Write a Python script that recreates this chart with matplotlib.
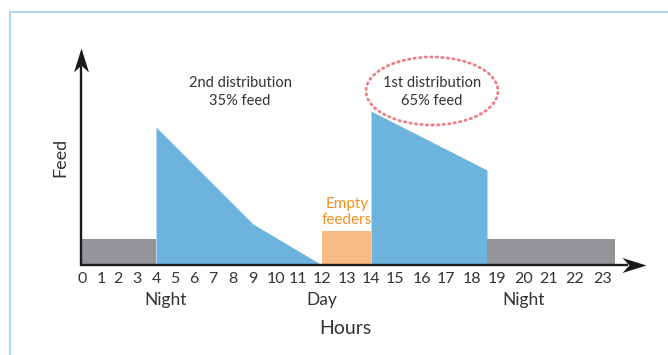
import numpy as np
import matplotlib
matplotlib.use("Agg")
import matplotlib.pyplot as plt
from matplotlib.patches import Ellipse, Rectangle
from matplotlib.path import Path
from matplotlib.scale import FuncScale

plt.rcParams['font.family'] = ['Lato', 'DejaVu Sans']

# ---- data ----
hours = list(range(24))
hour_labels = [str(h) for h in hours]
period_labels = ["Night", "Day", "Night"]
period_hours = [4.5, 12, 20]

night1_x = [0, 4]
night1_feed = [26, 26]
dist2_x = [4, 9, 12]          # 2nd distribution (35% feed)
dist2_feed = [138, 41, 0]
empty_x = [12, 14]
empty_feed = [34, 34]
dist1_x = [14, 18.6]          # 1st distribution (65% feed)
dist1_feed = [154, 95]
night2_x = [18.6, 23.46]
night2_feed = [26, 26]

# ---- layout: non-uniform hour positions (labels are set side by side) ----
pos_hours = [-5] + hours + [30]
pos_px = [82 - 5 * 19, 82, 101, 118, 137, 156, 175, 194, 213, 233, 253, 276, 298,
          322, 347, 371, 395, 422, 446, 472, 497, 524, 549, 575, 603, 603 + 7 * 26]

def fwd(x):
    return np.interp(x, pos_hours, pos_px)

def inv(p):
    return np.interp(p, pos_px, pos_hours)

W, H = 668, 355
fig = plt.figure(figsize=(W / 100, H / 100), dpi=100)
ax = fig.add_axes([0, 0, 1, 1])
ax.set_xscale(FuncScale(ax, (fwd, inv)))
ax.set_xlim(inv(0), inv(W))
ax.set_ylim(265 - H, 265)
ax.axis('off')

# frame
fig.patches.append(Rectangle((9.5 / W, -0.1), 1.2, (H - 12.5) / H + 0.1,
                             transform=fig.transFigure, fill=False,
                             ec='#afd6ef', lw=1.5))

gray = '#939598'
blue = '#6cb4de'
orange = '#f9bb85'
dark = '#333333'

ax.fill_between(night1_x, 0, night1_feed, color=gray, lw=0)
ax.fill_between(dist2_x, 0, dist2_feed, color=blue, lw=0)
ax.fill_between(empty_x, 0, empty_feed, color=orange, lw=0)
ax.fill_between(dist1_x, 0, dist1_feed, color=blue, lw=0)
ax.fill_between(night2_x, 0, night2_feed, color=gray, lw=0)

# axes with stealth arrowheads
axis_col = '#1a1a1a'
head_r = Path([(0, 0), (-24, 7.5), (-17, 0), (-24, -7.5), (0, 0)],
              [Path.MOVETO, Path.LINETO, Path.LINETO, Path.LINETO, Path.CLOSEPOLY])
head_u = Path([(0, 0), (7.5, -24), (0, -17), (-7.5, -24), (0, 0)],
              [Path.MOVETO, Path.LINETO, Path.LINETO, Path.LINETO, Path.CLOSEPOLY])
ms = 48 * 72 / 100
x_end = inv(646)
y_end = 265 - 48
ax.plot([inv(80), inv(628)], [0, 0], color=axis_col, lw=1.7, solid_capstyle='butt')
ax.plot([x_end], [0], marker=head_r, ms=ms, color=axis_col, mew=0)
ax.plot([inv(81), inv(81)], [-1, y_end - 18], color=axis_col, lw=1.7, solid_capstyle='butt')
ax.plot([inv(81)], [y_end], marker=head_u, ms=ms, color=axis_col, mew=0)

# tick labels
for h, lab in zip(hours, hour_labels):
    ax.text(h, 265 - 279, lab, ha='center', va='center', fontsize=11.5, color=dark)
for h, lab in zip(period_hours, period_labels):
    ax.text(h, 265 - 300, lab, ha='center', va='center', fontsize=12.5, color=dark)

ax.text(inv(345), 265 - 329, 'Hours', ha='center', va='center', fontsize=14, color=dark)
ax.text(inv(60), 265 - 157, 'Feed', ha='center', va='center', fontsize=13,
        rotation=90, color=dark)

ax.text(inv(240), 265 - 92, '2nd distribution\n35% feed', ha='center', va='center',
        fontsize=10.5, color=dark, linespacing=1.45)
ax.text(inv(432), 265 - 92, '1st distribution\n65% feed', ha='center', va='center',
        fontsize=10.5, color=dark, linespacing=1.45)
ax.text(13, 265 - 212, 'Empty\nfeeders', ha='center', va='center',
        fontsize=11, color='#f7901e', linespacing=1.15)

# dotted ellipse
ell = Ellipse((432 / 100, (H - 91) / 100), 1.32, 0.68,
              transform=fig.dpi_scale_trans, fill=False,
              ec='#ee7d85', lw=2, ls=(0, (0.5, 1.5)), capstyle='round')
fig.patches.append(ell)

fig.savefig('out.png', dpi=100)
